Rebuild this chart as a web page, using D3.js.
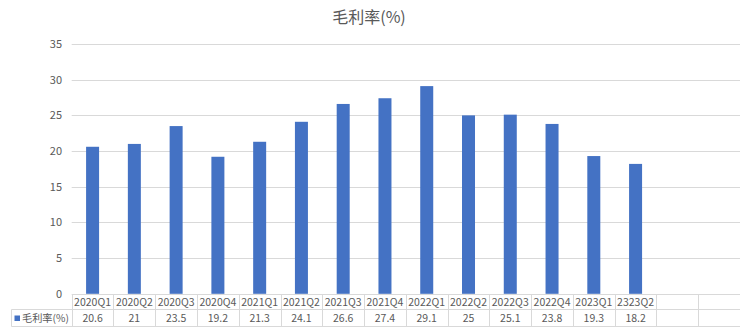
<!DOCTYPE html>
<html><head><meta charset="utf-8">
<script src="https://cdn.jsdelivr.net/npm/d3@7"></script>
<style>body{margin:0;background:#fff;}svg{display:block;}</style>
</head><body>
<script>
const title = "毛利率(%)";
const seriesName = "毛利率(%)";
const categories = ["2020Q1","2020Q2","2020Q3","2020Q4","2021Q1","2021Q2","2021Q3","2021Q4","2022Q1","2022Q2","2022Q3","2022Q4","2023Q1","2323Q2","",""];
const values = [20.6, 21, 23.5, 19.2, 21.3, 24.1, 26.6, 27.4, 29.1, 25, 25.1, 23.8, 19.3, 18.2, null, null];
const valueLabels = ["20.6","21","23.5","19.2","21.3","24.1","26.6","27.4","29.1","25","25.1","23.8","19.3","18.2","",""];
const yTicks = [0,5,10,15,20,25,30,35];

const W = 740, H = 334;
const font = "'Noto Sans CJK SC', 'Noto Sans', sans-serif";
const svg = d3.select("body").append("svg").attr("width", W).attr("height", H)
  .style("font-family", font);

const x = d3.scaleBand().domain(d3.range(categories.length)).range([71.7, 740]).paddingInner(0).paddingOuter(0);
const y = d3.scaleLinear().domain([0, 35]).range([293.8, 44]);

// title
svg.append("text").attr("x", 369).attr("y", 23).attr("text-anchor", "middle")
  .attr("fill", "#595959").attr("font-size", 16).text(title);

// gridlines
svg.append("g").selectAll("line").data(yTicks.filter(d => d > 0)).join("line")
  .attr("x1", 71.7).attr("x2", 740).attr("y1", d => Math.round(y(d)) + 0.5).attr("y2", d => Math.round(y(d)) + 0.5)
  .attr("stroke", "#d9d9d9").attr("stroke-width", 1);

// y axis labels
const yAxis = d3.axisLeft(y).tickValues(yTicks).tickSize(0).tickPadding(0).tickFormat(d3.format("d"));
const ga = svg.append("g").attr("transform", "translate(62,0)").call(yAxis);
ga.select(".domain").remove();
ga.selectAll("text").attr("fill", "#595959").attr("font-size", 11).style("font-family", font);

// bars
const bw = 13;
svg.append("g").selectAll("rect").data(values.map((v, i) => ({v, i})).filter(d => d.v != null)).join("rect")
  .attr("x", d => x(d.i) + x.bandwidth() / 2 - bw / 2)
  .attr("width", bw)
  .attr("y", d => y(d.v))
  .attr("height", d => y(0) - y(d.v))
  .attr("fill", "#4472C4");

// data table
const tTop = 294.5, tMid = 309.5, tBot = 326.5, legLeft = 11.5;
const tg = svg.append("g").attr("stroke", "#d9d9d9").attr("stroke-width", 1);
tg.append("line").attr("x1", 71.7).attr("x2", 740).attr("y1", tTop).attr("y2", tTop);
tg.append("line").attr("x1", legLeft).attr("x2", 740).attr("y1", tMid).attr("y2", tMid);
tg.append("line").attr("x1", legLeft).attr("x2", 740).attr("y1", tBot).attr("y2", tBot);
tg.append("line").attr("x1", legLeft).attr("x2", legLeft).attr("y1", tMid).attr("y2", tBot);
tg.selectAll("line.v").data(d3.range(categories.length + 1)).join("line").attr("class", "v")
  .attr("x1", i => Math.round(i < categories.length ? x(i) : 740) + 0.5)
  .attr("x2", i => Math.round(i < categories.length ? x(i) : 740) + 0.5)
  .attr("y1", tTop).attr("y2", tBot);

svg.append("g").selectAll("text").data(categories).join("text")
  .attr("x", (d, i) => x(i) + x.bandwidth() / 2).attr("y", 305.5)
  .attr("text-anchor", "middle").attr("font-size", 10.5).attr("fill", "#595959").text(d => d);
svg.append("g").selectAll("text").data(valueLabels).join("text")
  .attr("x", (d, i) => x(i) + x.bandwidth() / 2).attr("y", 322)
  .attr("text-anchor", "middle").attr("font-size", 10.5).attr("fill", "#595959").text(d => d);

// legend key
svg.append("rect").attr("x", 14.5).attr("y", 315.5).attr("width", 5.5).attr("height", 5.5).attr("fill", "#4472C4");
svg.append("text").attr("x", 22).attr("y", 322).attr("font-size", 10.2).attr("fill", "#595959").text(seriesName);
</script>
</body></html>
